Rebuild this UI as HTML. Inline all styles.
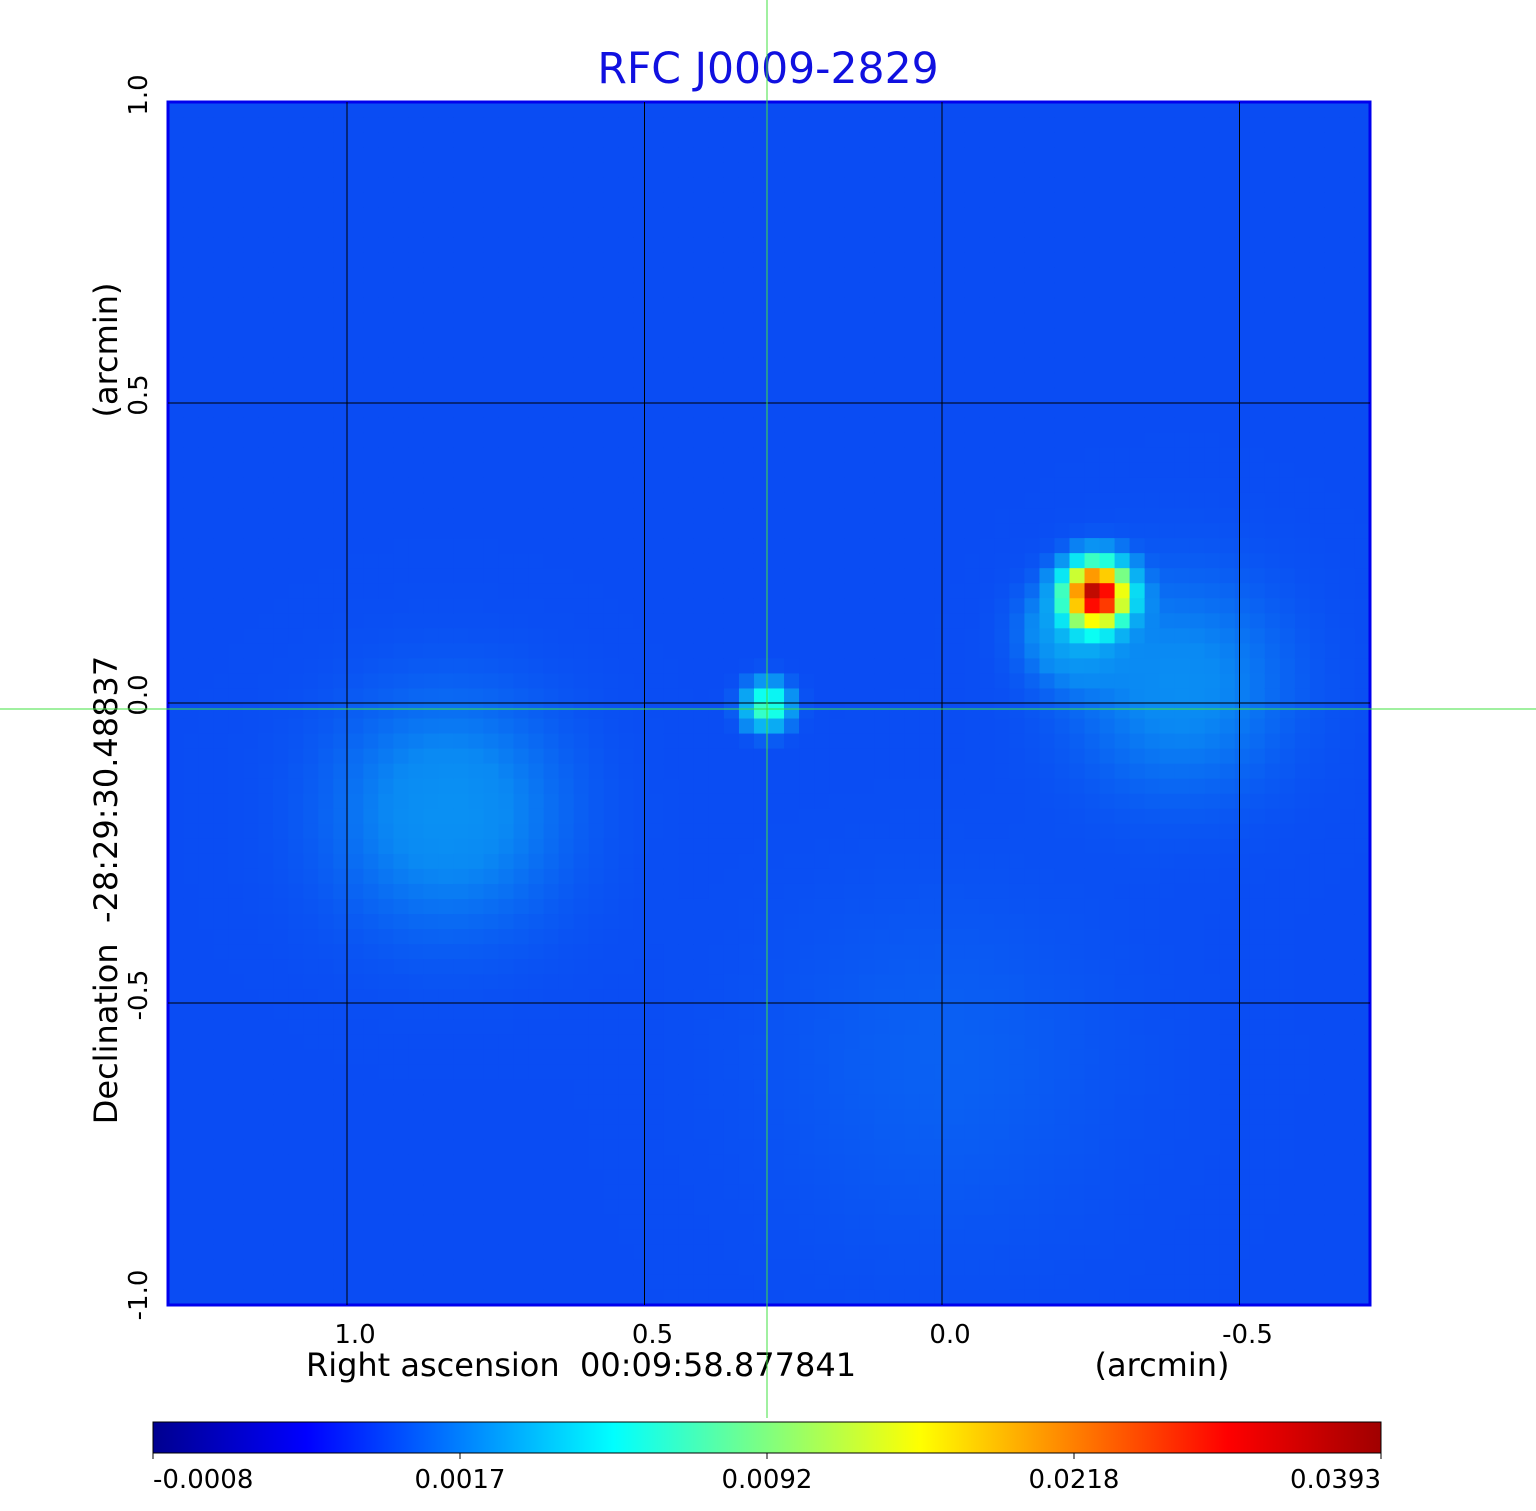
<!DOCTYPE html>
<html><head><meta charset="utf-8"><style>
body{margin:0;background:#fff;width:1536px;height:1511px;overflow:hidden;position:relative;font-family:"Liberation Sans","DejaVu Sans",sans-serif}
text{white-space:pre}
</style></head><body>
<svg width="1536" height="1511" style="position:absolute;left:0;top:0" font-family="DejaVu Sans, Liberation Sans, sans-serif">
<text x="768" y="83" text-anchor="middle" font-size="42.5" fill="#1010e0">RFC J0009-2829</text>
<g id="heat"></g>
<rect x="168" y="102" width="1202" height="1203" fill="none" stroke="#0000ee" stroke-width="3"/>
<g id="grid"></g>
<g id="ticks" font-size="26" fill="#000"></g>
<text x="581" y="1376" text-anchor="middle" font-size="32">Right ascension  00:09:58.877841</text>
<text x="1162" y="1376" text-anchor="middle" font-size="32">(arcmin)</text>
<text transform="translate(117,890) rotate(-90)" text-anchor="middle" font-size="32">Declination  -28:29:30.48837</text>
<text transform="translate(117,350) rotate(-90)" text-anchor="middle" font-size="32">(arcmin)</text>
<defs><linearGradient id="jet" x1="0" x2="1">
<stop offset="0" stop-color="#00008f"/><stop offset="0.125" stop-color="#0000ff"/><stop offset="0.375" stop-color="#00ffff"/><stop offset="0.625" stop-color="#ffff00"/><stop offset="0.875" stop-color="#ff0000"/><stop offset="1" stop-color="#a00000"/>
</linearGradient></defs>
<rect x="153" y="1422" width="1228" height="31" fill="url(#jet)" stroke="#000" stroke-width="1"/>
<g id="cbticks" font-size="26"></g>
<line x1="767" y1="0" x2="767" y2="1418" stroke="#40e040" stroke-width="1"/>
<line x1="0" y1="709" x2="1536" y2="709" stroke="#40e040" stroke-width="1"/>
</svg>
<script>
const cbTickValues=[-0.0008,0.0017,0.0092,0.0218,0.0393];
const cbTickLabels=["-0.0008","0.0017","0.0092","0.0218","0.0393"];
const xTicks=[1.0,0.5,0.0,-0.5];
const yTicks=[1.0,0.5,0.0,-0.5,-1.0];
const background=0.0011;
// sources: ra offset, dec offset (arcmin), amplitude, sigma (arcmin)
const srcRa=[-0.26,0.294,-0.4,0.83,-0.22,0.0];
const srcDec=[0.18,-0.005,0.03,-0.18,0.12,-0.6];
const srcAmp=[0.036,0.0065,0.0007,0.0008,0.0014,0.0002];
const srcSig=[0.03,0.022,0.12,0.13,0.05,0.2];
const NS="http://www.w3.org/2000/svg";
const X=ra=>942-595*ra, Y=d=>703-600*d;
function frac(v){const t=cbTickValues;if(v<=t[0])return 0;for(let i=0;i<t.length-1;i++){if(v<=t[i+1])return (i+(v-t[i])/(t[i+1]-t[i]))/4;}return 1;}
function jet(f){const c=x=>Math.round(255*Math.max(0,Math.min(1,1.5-Math.abs(4*f-x))));return `rgb(${Math.min(255,c(3)+10)},${Math.min(255,c(2)+10)},${Math.min(255,Math.max(0,c(1)-12))})`;}
const heat=document.getElementById('heat');
const N=80,x0=168,y0=102,cw=1202/N,ch=1203/N;
for(let i=0;i<N;i++)for(let j=0;j<N;j++){
 const px=x0+(i+0.5)*cw,py=y0+(j+0.5)*ch;const ra=(942-px)/595,de=(703-py)/600;
 let v=background;for(let k=0;k<srcRa.length;k++){const dx=ra-srcRa[k],dy=de-srcDec[k];v+=srcAmp[k]*Math.exp(-(dx*dx+dy*dy)/(2*srcSig[k]*srcSig[k]));}
 const r=document.createElementNS(NS,'rect');
 
 
 r.setAttribute('x',(x0+i*cw).toFixed(2));r.setAttribute('y',(y0+j*ch).toFixed(2));
 r.setAttribute('width',(cw+0.6).toFixed(2));r.setAttribute('height',(ch+0.6).toFixed(2));
 r.setAttribute('fill',jet(frac(v)));heat.appendChild(r);
}
const grid=document.getElementById('grid'),ticks=document.getElementById('ticks');
xTicks.forEach(t=>{const l=document.createElementNS(NS,'line');
 
 
 l.setAttribute('x1',X(t));l.setAttribute('x2',X(t));l.setAttribute('y1',102);l.setAttribute('y2',1305);l.setAttribute('stroke','#000');l.setAttribute('stroke-width','1');grid.appendChild(l);
 const tx=document.createElementNS(NS,'text');
 
 
 tx.setAttribute('x',X(t)+8);tx.setAttribute('y',1343);tx.setAttribute('text-anchor','middle');tx.textContent=t.toFixed(1);ticks.appendChild(tx);});
yTicks.forEach(t=>{if(Math.abs(t)<1){const l=document.createElementNS(NS,'line');
 
 
 l.setAttribute('x1',168);l.setAttribute('x2',1370);l.setAttribute('y1',Y(t));l.setAttribute('y2',Y(t));l.setAttribute('stroke','#000');l.setAttribute('stroke-width','1');grid.appendChild(l);}
 const tx=document.createElementNS(NS,'text');
 
 
 tx.setAttribute('transform',`translate(147,${Y(t)-8}) rotate(-90)`);tx.setAttribute('text-anchor','middle');tx.textContent=t.toFixed(1);ticks.appendChild(tx);});
const cb=document.getElementById('cbticks');
cbTickValues.forEach((v,i)=>{const x=153+1228*i/4;
 const l=document.createElementNS(NS,'line');
 
 
 l.setAttribute('x1',x);l.setAttribute('x2',x);l.setAttribute('y1',1453);l.setAttribute('y2',1459);l.setAttribute('stroke','#000');cb.appendChild(l);
 const tx=document.createElementNS(NS,'text');
 
 
 tx.setAttribute('x',i==0?153:i==4?1381:x);tx.setAttribute('y',1488);tx.setAttribute('text-anchor',i==0?'start':i==4?'end':'middle');tx.textContent=cbTickLabels[i];cb.appendChild(tx);});
</script>
</body></html>
